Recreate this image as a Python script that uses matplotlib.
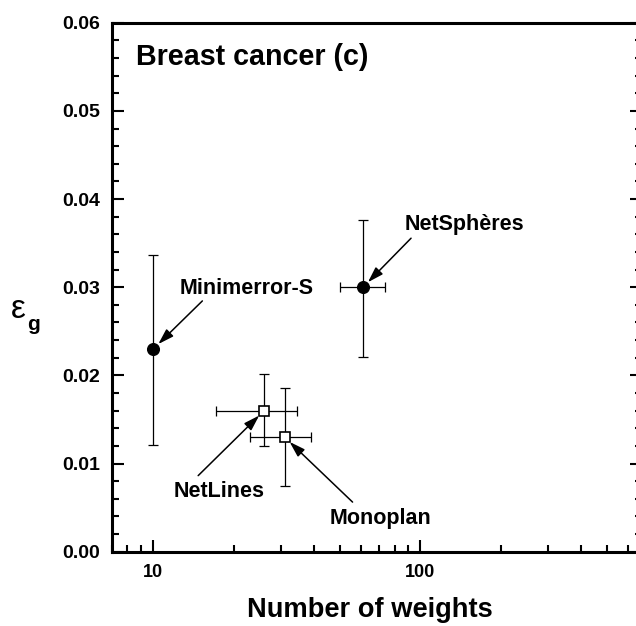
import numpy as np
import matplotlib
matplotlib.use('Agg')
import matplotlib.pyplot as plt
from matplotlib.ticker import MultipleLocator, LogLocator, FixedLocator, NullFormatter

plt.rcParams['font.family'] = ['Liberation Sans', 'DejaVu Sans']
plt.rcParams['font.weight'] = 'bold'

# generalisation error vs. network size, breast cancer set
methods = ['Minimerror-S', 'NetSphères', 'NetLines', 'Monoplan']
weights = [10, 61, 26, 31]
weights_lo = [10, 50, 17.2, 23.1]
weights_hi = [10, 74, 34.5, 39]
eg = [0.023, 0.030, 0.016, 0.013]
eg_lo = [0.0121, 0.0221, 0.0120, 0.0075]
eg_hi = [0.0336, 0.0376, 0.0201, 0.0186]
filled = [True, True, False, False]

# label placement (pixels from the point): text centre, arrow tail
text_off = [(93, 60), (101, 63), (-45, -81), (96, -81)]
tail_off = [(49, 48), (48, 49), (-66, -65), (68, -65)]

W, H = 636, 626
fig = plt.figure(figsize=(W / 100, H / 100), dpi=100)
ax = fig.add_axes([112 / W, (H - 551.7) / H, 530 / W, 529 / H])

for i, m in enumerate(methods):
    x, y = weights[i], eg[i]
    xerr = [[x - weights_lo[i]], [weights_hi[i] - x]]
    yerr = [[y - eg_lo[i]], [eg_hi[i] - y]]
    ax.errorbar([x], [y], xerr=xerr if weights_hi[i] > weights_lo[i] else None,
                yerr=yerr, fmt='none', ecolor='black', elinewidth=0.9,
                capsize=3.3, capthick=0.9, zorder=2)
    if filled[i]:
        ax.plot([x], [y], 'o', ms=8.4, mfc='black', mec='black', zorder=3)
    else:
        ax.plot([x], [y], 's', ms=7.6, mfc='white', mec='black', mew=1.2, zorder=3)
    ax.annotate('', xy=(x, y), xytext=tail_off[i], textcoords='offset pixels',
                arrowprops=dict(arrowstyle='-|>,head_length=0.95,head_width=0.3',
                                mutation_scale=10, lw=1.1, color='black',
                                shrinkA=0, shrinkB=5))
    ax.annotate(m, xy=(x, y), xytext=text_off[i], textcoords='offset pixels',
                ha='center', va='center', fontsize=15.5, fontweight='bold')

ax.set_xscale('log')
ax.set_xlim(7, 676)
ax.set_ylim(0, 0.06)

ax.xaxis.set_major_locator(FixedLocator([10, 100]))
ax.xaxis.set_minor_locator(LogLocator(base=10, subs=np.arange(2, 10)))
ax.xaxis.set_minor_formatter(NullFormatter())
ax.set_xticklabels(['10', '100'])
ax.yaxis.set_major_locator(MultipleLocator(0.01))
ax.yaxis.set_minor_locator(MultipleLocator(0.002))
ax.yaxis.set_major_formatter(plt.FormatStrFormatter('%.2f'))

ax.tick_params(which='both', direction='in', left=True, right=True,
               bottom=True, top=False, width=1.5)
ax.tick_params(which='major', length=8.6)
ax.tick_params(which='minor', length=5)
ax.tick_params(axis='y', pad=8.5, labelsize=14)
ax.tick_params(axis='x', pad=9, labelsize=13)
for s in ax.spines.values():
    s.set_linewidth(2.2)

ax.text(0.045, 0.935, 'Breast cancer (c)', transform=ax.transAxes,
        fontsize=20.6, fontweight='bold', ha='left', va='center')

fig.text(370 / W, 1 - 610 / H, 'Number of weights', fontsize=19.6,
         fontweight='bold', ha='center', va='center')

fig.text(18.5 / W, 1 - 318 / H, 'ε', fontsize=24, fontweight='normal',
         ha='center', va='baseline')
fig.text(33 / W, 1 - 330 / H, 'g', fontsize=15, fontweight='bold',
         ha='center', va='baseline')

fig.savefig('out.png', dpi=100)
